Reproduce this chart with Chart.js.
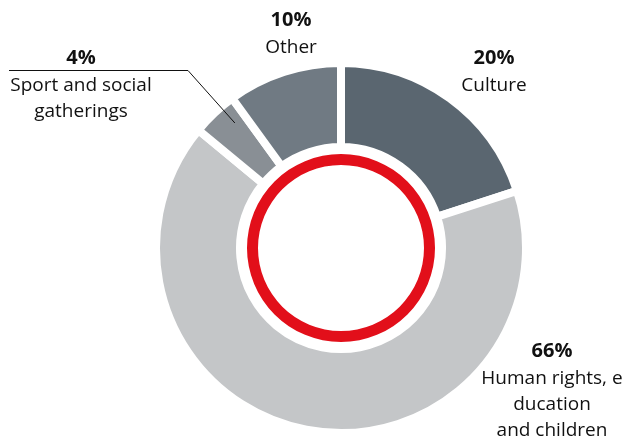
<!DOCTYPE html>
<html>
<head>
<meta charset="utf-8">
<script src="https://cdn.jsdelivr.net/npm/chart.js@4/dist/chart.umd.min.js"></script>
<style>
  html, body { margin: 0; padding: 0; background: #fff; }
  #wrap { width: 625px; height: 436px; position: relative; }
</style>
</head>
<body>
<div id="wrap"><canvas id="donut" width="625" height="436"></canvas></div>
<script>
// shares in percent, clockwise from 12 o'clock
const categories = ['Culture', 'Human rights, e\nducation\nand children', 'Sport and social\ngatherings', 'Other'];
const shares = [20, 66, 4, 10];
const sliceColors = ['#5a6670', '#c4c6c8', '#898f95', '#707a83'];

// where each label block is centred (x, top baseline y)
const labelAt = [
  { x: 494, y: 64 },
  { x: 552, y: 357 },
  { x: 81, y: 64 },
  { x: 291, y: 26 }
];

const labelPlugin = {
  id: 'sliceLabels',
  afterDraw(chart) {
    const { ctx } = chart;
    const arcs = chart.getDatasetMeta(0).data;
    ctx.save();
    ctx.textAlign = 'center';
    ctx.textBaseline = 'alphabetic';
    ctx.fillStyle = '#111';
    shares.forEach((v, i) => {
      const p = labelAt[i];
      ctx.font = 'bold 20px "Open Sans"';
      ctx.fillText(v + '%', p.x, p.y);
      ctx.font = '19px "Open Sans"';
      categories[i].split('\n').forEach((line, j) => {
        ctx.fillText(line, p.x, p.y + 27 + j * 26);
      });
    });

    // leader line for the small sport slice
    const a = arcs[2];
    const mid = (a.startAngle + a.endAngle) / 2 + 0.05;
    const r = a.innerRadius + (a.outerRadius - a.innerRadius) * 0.75;
    const ex = a.x + Math.cos(mid) * r;
    const ey = a.y + Math.sin(mid) * r;
    ctx.strokeStyle = '#111';
    ctx.lineWidth = 1;
    ctx.beginPath();
    ctx.moveTo(9, 70.5);
    ctx.lineTo(188, 70.5);
    ctx.lineTo(ex, ey);
    ctx.stroke();
    ctx.restore();
  }
};

new Chart(document.getElementById('donut'), {
  type: 'doughnut',
  data: {
    labels: categories,
    datasets: [
      {
        data: shares,
        backgroundColor: sliceColors,
        borderColor: '#ffffff',
        borderWidth: 8,
        weight: 84
      },
      {
        data: [1],
        backgroundColor: 'rgba(0,0,0,0)',
        borderWidth: 0,
        weight: 7
      },
      {
        data: [1],
        backgroundColor: '#e20f1a',
        borderWidth: 0,
        weight: 11
      }
    ]
  },
  options: {
    responsive: false,
    animation: false,
    events: [],
    radius: 185,
    cutout: '44.865%',
    layout: { padding: { left: 57, top: 60, right: 0, bottom: 0 } },
    plugins: {
      legend: { display: false },
      tooltip: { enabled: false }
    }
  },
  plugins: [labelPlugin]
});
</script>
</body>
</html>
